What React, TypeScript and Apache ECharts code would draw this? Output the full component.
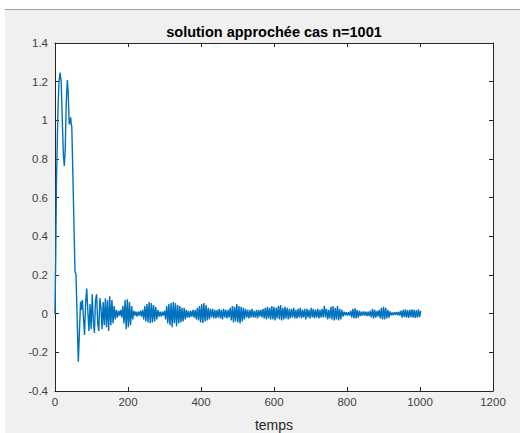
import React, { useEffect, useRef } from 'react';
import * as echarts from 'echarts';

const TITLE = 'solution approchée cas n=1001';
const X_LABEL = 'temps';
const X_MIN = 0;
const X_MAX = 1200;
const X_STEP = 200;
const Y_MIN = -0.4;
const Y_MAX = 1.4;
const Y_STEP = 0.2;

// initial transient, read point by point
const headT = [0, 2, 4, 8, 11, 14, 17, 20, 23, 25.5, 28, 31, 33.8, 36, 39, 41, 43, 44.7, 46, 54.8, 57.5, 63.9, 70];
const headY = [0, 0.3, 0.68, 1.05, 1.2, 1.247, 1.2, 1.0, 0.82, 0.764, 0.85, 1.1, 1.209, 1.15, 0.98, 0.99, 1.016, 0.975, 0.97, 0.217, 0.204, -0.248, 0.062];

// oscillating tail, sampled every TAIL_STEP time units from TAIL_START
const TAIL_START = 72;
const TAIL_STEP = 3;
const tailY = [
  0.02, 0.07, -0.02, -0.11, 0.06, 0.13, 0.01, -0.09, 0.05, -0.08, 0.1, -0.04, -0.1, 0.07, 0.1, -0.05, -0.09, 0.08, 0.03, -0.08, 0.06, -0.06, 0.08, -0.07, 0.07, -0.09, 0.09, -0.06, 0.07, -0.05, 0.04, -0.03,
  0.02, -0.02, 0.015, -0.01, 0.02, -0.02,
  0.04, -0.05, 0.07, -0.08, 0.075, -0.07, 0.06, -0.06, 0.04, -0.03,
  0.015, -0.01, 0.01, -0.015, 0.01, -0.01, 0.015, -0.015,
  0.02, -0.03, 0.04, -0.04, 0.05, -0.045, 0.06, -0.05, 0.055, -0.045, 0.045, -0.04, 0.035, -0.03, 0.02,
  -0.015, 0.01, -0.015, 0.01, -0.01, 0.015,
  -0.03, 0.04, -0.05, 0.05, -0.06, 0.055, -0.07, 0.06, -0.05, 0.055, -0.065, 0.045, -0.05, 0.04, -0.045, 0.03, -0.04, 0.03, -0.03, 0.02,
  -0.02, 0.015, -0.02, 0.015, -0.015, 0.02, -0.02, 0.02,
  -0.03, 0.03, -0.035, 0.04, -0.045, 0.05, -0.048, 0.055, -0.04, 0.045, -0.035, 0.03, -0.03,
  0.025, -0.02, 0.025, -0.025, 0.02, -0.025, 0.02, -0.02, 0.025, -0.025, 0.02, -0.03, 0.025, -0.02, 0.02, -0.025, 0.02, -0.02, 0.03,
  -0.035, 0.04, -0.045, 0.035, -0.04, 0.05, -0.045, 0.04, -0.05, 0.035, -0.04, 0.03, -0.03,
  0.025, -0.02, 0.02, -0.025, 0.02, -0.02, 0.025, -0.02, 0.015, -0.02, 0.02, -0.025, 0.02, -0.015, 0.02, -0.02, 0.025,
  -0.025, 0.03, -0.03, 0.035, -0.025, 0.03, -0.03, 0.04, -0.03, 0.035, -0.035, 0.03, -0.025, 0.04, -0.03, 0.045, -0.035, 0.03, -0.03, 0.035, -0.025, 0.03, -0.03, 0.025, -0.025,
  0.025, -0.02, 0.03, -0.025, 0.02, -0.025, 0.025, -0.02, 0.03, -0.025, 0.02, -0.02, 0.025, -0.03, 0.025, -0.02, 0.02, -0.025, 0.03, -0.02, 0.025, -0.025, 0.02, -0.02, 0.025, -0.025, 0.02, -0.02, 0.025, -0.02,
  0.04, -0.02, 0.025, -0.03, 0.02, -0.025, 0.035, -0.03, 0.04, -0.035, 0.03, -0.03, 0.04, -0.035, 0.025, -0.03, 0.02, -0.015,
  0.01, -0.008, 0.008, -0.01, 0.008, -0.01,
  0.015, -0.02, 0.025, -0.025, 0.028, -0.025, 0.02, -0.02, 0.015,
  -0.012, 0.01, -0.01, 0.012, -0.01, 0.01, -0.012, 0.01, -0.012,
  0.015, -0.02, 0.025, -0.025, 0.02, -0.02, 0.015, -0.015,
  0.02, -0.025, 0.03, -0.03, 0.035, -0.03, 0.03, -0.025, 0.02, -0.02, 0.012,
  -0.008, 0.006, -0.008, 0.008, -0.006, 0.008, -0.008, 0.01, -0.01,
  0.015, -0.02, 0.02, -0.018, 0.022, -0.02, 0.018, -0.022, 0.02, -0.018, 0.022, -0.02, 0.02, -0.022, 0.018, -0.02, 0.022, -0.018, 0.015,
];

const FONT = '"Liberation Sans", Arial, Helvetica, sans-serif';

export default function App() {
  const ref = useRef<HTMLDivElement>(null);

  useEffect(() => {
    document.body.style.margin = '0';
    if (!ref.current) return;
    const chart = echarts.init(ref.current, null, { renderer: 'svg' });

    const data: [number, number][] = [];
    headT.forEach((t, i) => data.push([t, headY[i]]));
    tailY.forEach((v, i) => data.push([TAIL_START + i * TAIL_STEP, v]));

    const gridLeft = 55;
    const gridTop = 43;
    const gridW = 438;
    const gridH = 348;

    const axisCommon = {
      type: 'value' as const,
      axisLine: { show: true, onZero: false, lineStyle: { color: '#262626', width: 1 } },
      axisTick: { show: true, inside: true, length: 4, lineStyle: { color: '#262626', width: 1 } },
      splitLine: { show: false },
    };
    const labelStyle = { color: '#404040', fontSize: 11.5, fontFamily: FONT };

    chart.setOption({
      animation: false,
      backgroundColor: '#ffffff',
      grid: {
        left: gridLeft,
        top: gridTop,
        width: gridW,
        height: gridH,
        show: true,
        backgroundColor: '#ffffff',
        borderWidth: 0,
        containLabel: false,
        outerBoundsMode: 'none',
      },
      xAxis: [
        {
          ...axisCommon,
          position: 'bottom',
          min: X_MIN,
          max: X_MAX,
          interval: X_STEP,
          axisLabel: { ...labelStyle, margin: 5, formatter: (v: number) => String(v) },
        },
        {
          ...axisCommon,
          position: 'top',
          min: X_MIN,
          max: X_MAX,
          interval: X_STEP,
          axisLabel: { show: false },
        },
      ],
      yAxis: [
        {
          ...axisCommon,
          position: 'left',
          min: Y_MIN,
          max: Y_MAX,
          interval: Y_STEP,
          axisLabel: {
            ...labelStyle,
            margin: 7,
            formatter: (v: number) => String(Math.round(v * 10) / 10),
          },
        },
        {
          ...axisCommon,
          position: 'right',
          min: Y_MIN,
          max: Y_MAX,
          interval: Y_STEP,
          axisLabel: { show: false },
        },
      ],
      graphic: [
        {
          type: 'rect',
          z: -10,
          silent: true,
          shape: { x: 5, y: 9, width: 515, height: 424 },
          style: { fill: '#f0f0f0' },
        },
        {
          type: 'line',
          z: -9,
          silent: true,
          shape: { x1: 5, y1: 9.5, x2: 520, y2: 9.5 },
          style: { stroke: '#a0a0a0', lineWidth: 1 },
        },
        {
          type: 'text',
          x: gridLeft + gridW / 2,
          y: 31.5,
          style: {
            text: TITLE,
            x: 0,
            y: 0,
            align: 'center',
            verticalAlign: 'middle',
            textAlign: 'center',
            textVerticalAlign: 'middle',
            fill: '#000000',
            font: `bold 14.5px ${FONT}`,
          },
        },
        {
          type: 'text',
          x: gridLeft + gridW / 2,
          y: 425,
          style: {
            text: X_LABEL,
            x: 0,
            y: 0,
            align: 'center',
            verticalAlign: 'middle',
            textAlign: 'center',
            textVerticalAlign: 'middle',
            fill: '#262626',
            font: `14px ${FONT}`,
          },
        },
      ],
      series: [
        {
          type: 'line',
          data,
          xAxisIndex: 0,
          yAxisIndex: 0,
          showSymbol: false,
          symbol: 'none',
          lineStyle: { color: '#0072BD', width: 1.4 },
          clip: true,
        },
      ],
    });

    return () => chart.dispose();
  }, []);

  return <div ref={ref} style={{ width: 526, height: 433 }} />;
}
